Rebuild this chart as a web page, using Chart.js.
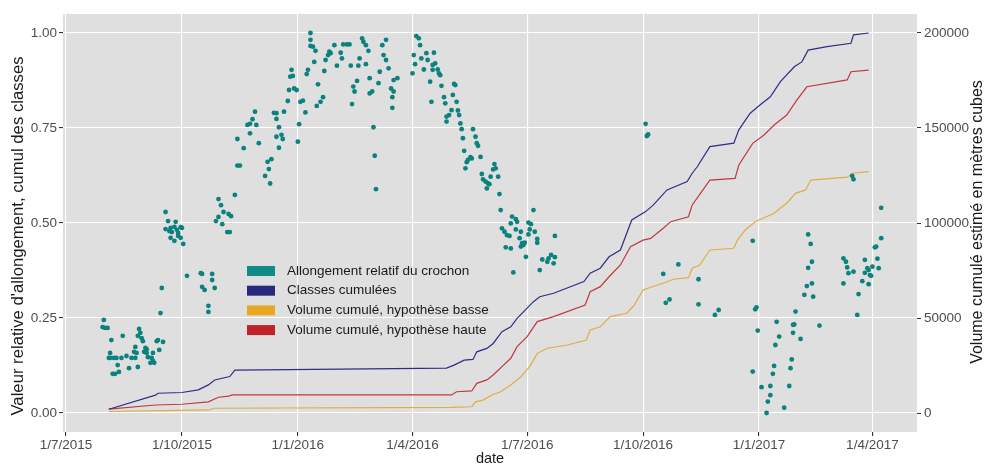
<!DOCTYPE html>
<html lang="fr">
<head>
<meta charset="utf-8">
<title>Allongement relatif du crochon</title>
<script src="https://cdn.jsdelivr.net/npm/chart.js@4.4.1/dist/chart.umd.min.js"></script>
<style>
  html, body { margin: 0; padding: 0; background: #fff; }
  #wrap { width: 986px; height: 464px; }
</style>
</head>
<body>
<div id="wrap"><canvas id="crochonChart" width="986" height="464"></canvas></div>
<script>
// x = jours depuis le 1/7/2015
const origine = Date.UTC(2015, 6, 1);

const xTickLabels = ["1/7/2015", "1/10/2015", "1/1/2016", "1/4/2016", "1/7/2016", "1/10/2016", "1/1/2017", "1/4/2017"];
const yTicksGauche = [0, 0.25, 0.5, 0.75, 1];
const yTicksDroite = [0, 50000, 100000, 150000, 200000];

const allongementJours = [
    30, 29, 31, 33, 36, 35, 35, 34, 38, 40, 44, 48, 45, 52, 55, 41, 42, 37, 39, 50, 58, 59, 57, 60, 61, 55, 54, 56, 63, 64, 62, 64, 65, 69, 68, 69, 67, 70, 72, 73, 77, 74, 75, 76, 57,
    79, 81, 87, 79, 82, 84, 88, 91, 92, 89, 89, 83, 86, 91, 93, 83, 86,
    96, 107, 108, 116, 116, 108, 110, 118, 113, 113,
    121, 123, 125, 121, 119, 124, 129, 131, 128, 130, 134,
    136, 138, 141, 136, 146, 144, 146, 148, 150, 151, 153, 158, 162, 161, 160, 163, 165, 167, 167, 169, 167, 171, 172, 169,
    173, 176, 177, 178, 179, 180, 181, 183, 185, 184, 186, 188, 190, 191, 192, 197, 200, 199, 202, 204, 205, 194, 194, 194, 196, 198,
    206, 208, 209, 210, 213, 215, 218, 219, 220, 223, 225, 226, 228, 229, 227, 231, 232, 233, 235, 236, 238, 240, 238, 241, 241, 243,
    244, 245, 246, 248, 249, 251, 254, 252, 254, 256, 263, 260, 258, 260, 259, 259, 276, 275, 277, 278, 280,
    281, 282, 286, 287, 284, 289, 290, 292, 291, 293, 291, 295, 296, 297, 298, 308, 309, 307, 300, 301, 310, 306, 304, 302, 302,
    311, 312, 313, 314, 323, 325, 315, 326, 327, 316, 329, 321, 319, 318, 317, 322, 330, 331, 333, 335, 334, 336, 340, 341, 339, 343, 337,
    344, 345, 371, 354, 357, 358, 353, 346, 348, 350, 352, 357, 361, 367, 369, 368, 372, 367, 374, 374, 360, 362, 364, 349, 353, 361, 363,
    365, 388, 378, 382, 383, 385, 387, 388, 376, 355,
    460, 461, 462,
    474, 486, 476, 479, 502, 502, 515, 518,
    545, 548, 547, 549, 545, 552, 559, 559, 557, 556, 561, 562, 563, 564, 566, 570, 574, 575, 576, 577, 578, 577, 579, 583, 586, 588, 589, 589, 591, 592, 592, 593, 598,
    624, 625, 617, 619, 620, 621, 625, 617, 629, 628, 632, 634, 634, 636, 637, 638, 637, 639, 640, 642, 643, 644, 645, 647, 647
];
const allongementValeurs = [
    0.245, 0.226, 0.224, 0.224, 0.192, 0.158, 0.145, 0.145, 0.145, 0.145, 0.145, 0.150, 0.203, 0.145, 0.145, 0.126, 0.108, 0.103, 0.103, 0.118, 0.221, 0.211, 0.203, 0.197, 0.189, 0.174, 0.161, 0.158, 0.171, 0.168, 0.161, 0.158, 0.147, 0.158, 0.145, 0.137, 0.132, 0.132, 0.189, 0.192, 0.187, 0.166, 0.263, 0.329, 0.121,
    0.529, 0.505, 0.503, 0.484, 0.479, 0.476, 0.482, 0.489, 0.487, 0.474, 0.466, 0.461, 0.453, 0.461, 0.445, 0.487, 0.490,
    0.361, 0.368, 0.366, 0.366, 0.350, 0.332, 0.324, 0.329, 0.282, 0.266,
    0.563, 0.547, 0.529, 0.516, 0.505, 0.497, 0.524, 0.518, 0.476, 0.476, 0.574,
    0.651, 0.651, 0.697, 0.721, 0.736, 0.758, 0.761, 0.773, 0.793, 0.758, 0.710, 0.624, 0.604, 0.642, 0.661, 0.668, 0.790, 0.789, 0.774, 0.752, 0.727, 0.732, 0.721, 0.698,
    0.793, 0.821, 0.850, 0.885, 0.903, 0.887, 0.854, 0.850, 0.760, 0.714, 0.819, 0.822, 0.791, 0.892, 0.903, 0.924, 0.865, 0.808, 0.819, 0.831, 0.900, 1.000, 0.982, 0.966, 0.964, 0.953,
    0.929, 0.942, 0.951, 0.947, 0.968, 0.914, 0.948, 0.933, 0.970, 0.970, 0.970, 0.914, 0.859, 0.846, 0.813, 0.874, 0.914, 0.933, 0.986, 0.977, 0.968, 0.953, 0.918, 0.881, 0.841, 0.846,
    0.752, 0.677, 0.589, 0.868, 0.898, 0.968, 0.982, 0.942, 0.929, 0.907, 0.881, 0.876, 0.854, 0.846, 0.831, 0.803, 0.942, 0.894, 0.918, 0.992, 0.986,
    0.968, 0.933, 0.947, 0.929, 0.904, 0.872, 0.819, 0.948, 0.916, 0.920, 0.903, 0.904, 0.894, 0.889, 0.861, 0.866, 0.863, 0.837, 0.831, 0.815, 0.819, 0.797, 0.784, 0.780, 0.767,
    0.796, 0.784, 0.762, 0.747, 0.747, 0.727, 0.723, 0.710, 0.703, 0.690, 0.674, 0.673, 0.666, 0.660, 0.644, 0.670, 0.629, 0.615, 0.609, 0.604, 0.591, 0.602, 0.655, 0.644, 0.641, 0.622, 0.622,
    0.576, 0.534, 0.534, 0.517, 0.510, 0.503, 0.499, 0.486, 0.477, 0.468, 0.466, 0.483, 0.477, 0.501, 0.497, 0.483, 0.477, 0.470, 0.458, 0.448, 0.460, 0.447, 0.448, 0.436, 0.433, 0.438, 0.442,
    0.411, 0.466, 0.404, 0.398, 0.407, 0.416, 0.394, 0.410, 0.376, 0.370,
    0.761, 0.729, 0.733,
    0.366, 0.391, 0.290, 0.299, 0.352, 0.286, 0.258, 0.271,
    0.453, 0.278, 0.273, 0.217, 0.109, 0.068, 0.071, 0.047, 0.030, 0.000, 0.103, 0.124, 0.179, 0.240, 0.201, 0.014, 0.071, 0.118, 0.141, 0.232, 0.233, 0.211, 0.267, 0.195, 0.311, 0.334, 0.382, 0.470, 0.445, 0.398, 0.341, 0.306, 0.230,
    0.624, 0.615, 0.407, 0.398, 0.383, 0.368, 0.372, 0.341, 0.313, 0.258, 0.347, 0.403, 0.369, 0.381, 0.376, 0.363, 0.339, 0.361, 0.385, 0.436, 0.438, 0.406, 0.381, 0.460, 0.540
];

const classesJours = [34, 71, 73, 92, 105, 113, 118, 130, 134, 302, 308, 316, 323, 326, 334, 339, 346, 353, 358, 371,
    376, 387, 411, 416, 424, 431, 440, 449, 460, 466, 477, 493, 497, 501, 511, 530, 534, 543, 551, 559,
    567, 578, 584, 589, 604, 623, 625, 637];
const classesValeurs = [0.010, 0.047, 0.052, 0.054, 0.061, 0.074, 0.087, 0.096, 0.113, 0.118, 0.126, 0.139, 0.141, 0.161, 0.170, 0.183, 0.214, 0.227, 0.249, 0.293,
    0.306, 0.315, 0.346, 0.368, 0.381, 0.411, 0.429, 0.508, 0.530, 0.547, 0.587, 0.609, 0.631, 0.648, 0.701, 0.710, 0.745, 0.789, 0.811, 0.832,
    0.872, 0.911, 0.924, 0.955, 0.964, 0.973, 0.995, 1.000];

const volBasseJours = [34, 76, 113, 118, 306, 322, 325, 331, 338, 345, 353, 361, 368, 374, 382, 398, 413, 416, 424, 432,
    445, 451, 458, 464, 474, 482, 494, 497, 503, 511, 530, 533, 539, 547, 562, 572, 579, 587, 591, 620, 624, 637];
const volBasseM3 = [800, 1300, 1600, 2500, 3000, 3300, 5900, 6800, 9500, 11200, 14700, 19100, 24400, 31400, 34100, 35800, 38400, 43700, 45400, 50700,
    52500, 56800, 64700, 66200, 68300, 70400, 71200, 76200, 77900, 85800, 86700, 91100, 96300, 100700, 105100, 110400, 115600, 117400, 122600, 124100, 126200, 127000];

const volHauteJours = [34, 71, 92, 113, 121, 129, 132, 306, 310, 322, 326, 334, 339, 346, 353, 358, 366, 374, 387, 412,
    416, 424, 431, 440, 448, 458, 464, 474, 480, 494, 497, 511, 531, 534, 545, 554, 562, 572, 580, 588, 620, 623, 637];
const volHauteM3 = [2000, 4200, 4600, 5900, 8300, 8900, 9500, 9500, 11200, 11600, 15600, 17400, 20000, 24400, 28800, 34900, 40200, 48100, 50700, 56800,
    63800, 66500, 71700, 77900, 87500, 91000, 91900, 97200, 100700, 103300, 109500, 122600, 123500, 130500, 141900, 146300, 151600, 156800, 164700, 171700, 175300, 179600, 180500];

const joursTicks = xTickLabels.map(lab => {
    const [d, m, y] = lab.split("/").map(Number);
    return (Date.UTC(y, m - 1, d) - origine) / 86400000;
});
const points = (xs, ys) => xs.map((x, i) => ({ x: x, y: ys[i] }));

const police = "'Liberation Sans', Arial, sans-serif";
const fontTicks = { family: police, size: 13.5 };

// fond gris du panneau
const fondPanneau = {
    id: "fondPanneau",
    beforeDraw(chart) {
        const { ctx, chartArea: a } = chart;
        ctx.save();
        ctx.fillStyle = "#dfdfdf";
        ctx.fillRect(a.left, a.top, a.right - a.left, a.bottom - a.top);
        ctx.restore();
    }
};

// légende dans le panneau, comme ggplot
const legendePanneau = {
    id: "legendePanneau",
    afterDraw(chart) {
        const ctx = chart.ctx;
        ctx.save();
        ctx.font = "13.5px " + police;
        ctx.textBaseline = "middle";
        chart.data.datasets.forEach((ds, i) => {
            const y = 271 + i * 19.7;
            ctx.fillStyle = ds.cleCouleur;
            ctx.fillRect(247, y - 5, 28, 10);
            ctx.fillStyle = "#1a1a1a";
            ctx.fillText(ds.label, 287, y);
        });
        ctx.restore();
    }
};

const titresAxes = {
    id: "titresAxes",
    afterDraw(chart) {
        const ctx = chart.ctx;
        ctx.save();
        ctx.fillStyle = "#1a1a1a";
        ctx.textAlign = "center";
        ctx.textBaseline = "middle";
        ctx.font = "16.7px " + police;
        ctx.save();
        ctx.translate(18, 236);
        ctx.rotate(-Math.PI / 2);
        ctx.fillText("Valeur relative d'allongement, cumul des classes", 0, 0);
        ctx.restore();
        ctx.font = "16px " + police;
        ctx.save();
        ctx.translate(978, 222);
        ctx.rotate(-Math.PI / 2);
        ctx.fillText("Volume cumulé estimé en mètres cubes", 0, 0);
        ctx.restore();
        ctx.font = "14.5px " + police;
        ctx.fillText("date", 490, 459);
        ctx.restore();
    }
};

const grille = { color: "#ffffff", lineWidth: 1.1, tickColor: "#333333", tickLength: 4 };

new Chart(document.getElementById("crochonChart"), {
    type: "scatter",
    data: {
        datasets: [{
            label: "Allongement relatif du crochon",
            data: points(allongementJours, allongementValeurs),
            yAxisID: "y",
            backgroundColor: "#0b827d",
            cleCouleur: "#0f8c86",
            pointRadius: 2.4,
            pointHoverRadius: 2.4,
            pointBorderWidth: 0
        }, {
            label: "Classes cumulées",
            data: points(classesJours, classesValeurs),
            yAxisID: "y",
            showLine: true,
            borderColor: "#2e2f86",
            borderWidth: 1.2,
            pointRadius: 0,
            cleCouleur: "#272a7c"
        }, {
            label: "Volume cumulé, hypothèse basse",
            data: points(volBasseJours, volBasseM3),
            yAxisID: "y2",
            showLine: true,
            borderColor: "#e0ad45",
            borderWidth: 1.2,
            pointRadius: 0,
            cleCouleur: "#e8a826"
        }, {
            label: "Volume cumulé, hypothèse haute",
            data: points(volHauteJours, volHauteM3),
            yAxisID: "y2",
            showLine: true,
            borderColor: "#c0393f",
            borderWidth: 1.2,
            pointRadius: 0,
            cleCouleur: "#c0222a"
        }]
    },
    options: {
        responsive: false,
        animation: false,
        devicePixelRatio: 1,
        layout: { padding: { top: 14, left: 0, right: 0, bottom: 0 } },
        plugins: {
            legend: { display: false },
            tooltip: { enabled: false }
        },
        scales: {
            x: {
                type: "linear",
                position: "bottom",
                min: -2.4,
                max: 675.4,
                afterBuildTicks: s => { s.ticks = joursTicks.map(v => ({ value: v })); },
                afterFit: s => { s.height = 32; },
                ticks: {
                    callback: (v, i) => xTickLabels[i],
                    autoSkip: false,
                    maxRotation: 0,
                    color: "#4d4d4d",
                    font: fontTicks,
                    padding: 1
                },
                grid: grille,
                border: { display: false }
            },
            y: {
                position: "left",
                min: -0.05,
                max: 1.05,
                afterBuildTicks: s => { s.ticks = yTicksGauche.map(v => ({ value: v })); },
                afterFit: s => { s.width = 63; },
                ticks: {
                    callback: v => v.toFixed(2),
                    color: "#4d4d4d",
                    font: fontTicks,
                    padding: 2
                },
                grid: grille,
                border: { display: false }
            },
            y2: {
                position: "right",
                min: -10000,
                max: 210000,
                afterBuildTicks: s => { s.ticks = yTicksDroite.map(v => ({ value: v })); },
                afterFit: s => { s.width = 69; },
                ticks: {
                    callback: v => String(v),
                    color: "#4d4d4d",
                    font: fontTicks,
                    padding: 3
                },
                grid: { drawOnChartArea: false, tickColor: "#333333", tickLength: 4 },
                border: { display: false }
            }
        }
    },
    plugins: [fondPanneau, legendePanneau, titresAxes]
});
</script>
</body>
</html>
